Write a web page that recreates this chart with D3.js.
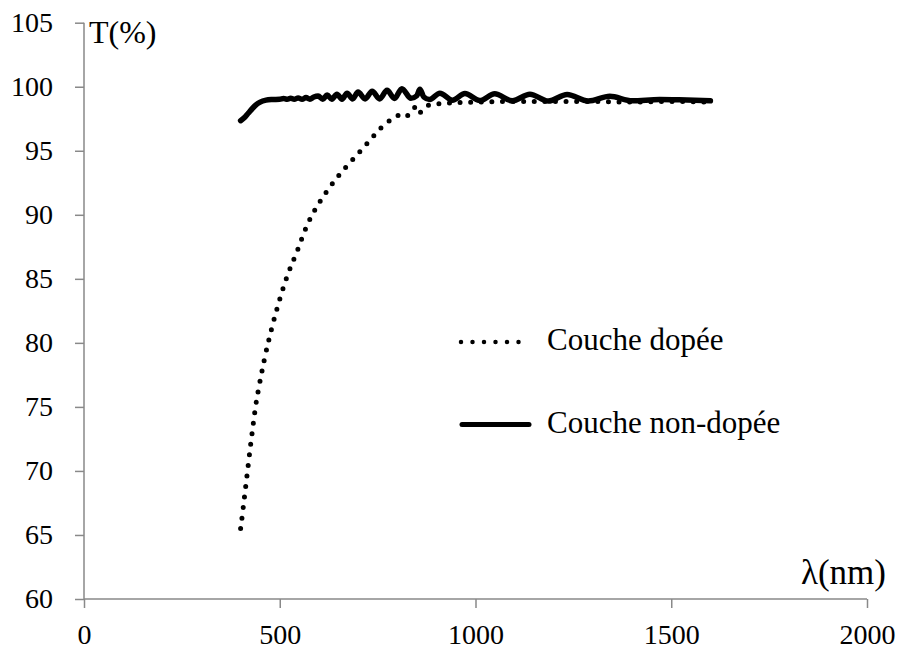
<!DOCTYPE html>
<html>
<head>
<meta charset="utf-8">
<script src="https://cdn.jsdelivr.net/npm/d3@7"></script>
<style>
  html, body { margin: 0; padding: 0; background: #fff; }
  svg { display: block; }
  text { font-family: "Liberation Serif", "Times New Roman", serif; fill: #000; }
</style>
</head>
<body>
<svg id="chart" width="900" height="652" font-family="Liberation Serif, Times New Roman, serif"></svg>
<script>
// ---- Data ----
const xTicks = [0, 500, 1000, 1500, 2000];
const yTicks = [60, 65, 70, 75, 80, 85, 90, 95, 100, 105];

// Couche dopée (dotted)
const lambdaDoped = [400, 405, 410, 415, 420, 425, 430, 435, 440, 445, 460, 480, 500, 520, 545, 570, 598, 629, 664, 698, 730, 759, 783, 810, 820, 835, 850, 858, 875, 900, 950, 1000, 1100, 1200, 1300, 1400, 1500, 1600];
const tDoped      = [65.5, 66.7, 68.0, 69.3, 70.6, 71.9, 73.1, 74.3, 75.4, 76.25, 78.6, 81.2, 83.4, 85.3, 87.2, 89.2, 90.8, 92.2, 93.55, 94.7, 95.8, 96.8, 97.4, 97.8, 97.65, 98.0, 98.5, 98.0, 98.5, 98.65, 98.75, 98.8, 98.85, 98.85, 98.85, 98.8, 98.85, 98.8];

// Couche non-dopée (solid)
const lambdaUndoped = [400, 410, 420, 430, 440, 450, 465, 480, 500, 510, 519, 528, 537, 547, 557, 567, 577, 587, 598, 610, 621, 633, 646, 659, 672, 686, 700, 718, 736, 755, 774, 793, 812, 835, 850, 858, 868, 883, 909, 941, 973, 1011, 1049, 1094, 1139, 1186, 1234, 1288, 1343, 1400, 1470, 1520, 1560, 1600];
const tUndoped      = [97.35, 97.6, 97.95, 98.3, 98.6, 98.8, 98.95, 99.0, 99.02, 99.08, 99.02, 99.1, 99.02, 99.12, 99.02, 99.15, 99.03, 99.2, 99.28, 99.03, 99.35, 99.03, 99.42, 99.03, 99.5, 99.05, 99.58, 99.05, 99.65, 99.05, 99.72, 99.08, 99.85, 99.1, 99.3, 99.8, 99.2, 99.0, 99.5, 98.95, 99.48, 98.92, 99.45, 98.9, 99.42, 98.88, 99.4, 98.88, 99.25, 98.9, 99.0, 98.98, 98.95, 98.9];

const seriesNames = ["Couche dopée", "Couche non-dopée"];
const xTitle = "λ(nm)";
const yTitle = "T(%)";

// ---- Layout ----
const serif = '"Liberation Serif", "Times New Roman", serif';
const svg = d3.select("#chart");
const x = d3.scaleLinear().domain([0, 2000]).range([84, 867]);
const y = d3.scaleLinear().domain([60, 105]).range([599, 22.7]);
const axisColor = "#898989";

// Y axis
const yAxis = svg.append("g")
  .attr("transform", `translate(${x(0)},0)`)
  .call(d3.axisLeft(y).tickValues(yTicks).tickSize(9).tickPadding(22).tickFormat(d3.format("d")));
// X axis
const xAxis = svg.append("g")
  .attr("transform", `translate(0,${y(60)})`)
  .call(d3.axisBottom(x).tickValues(xTicks).tickSize(9).tickPadding(16).tickFormat(d3.format("d")));

[yAxis, xAxis].forEach(g => {
  g.attr("font-family", serif).attr("font-size", 28);
  g.select(".domain").attr("stroke", axisColor).attr("stroke-width", 1.5);
  g.selectAll(".tick line").attr("stroke", axisColor).attr("stroke-width", 1.5);
  g.selectAll(".tick text")
    .attr("fill", "#000")
    .style("font-family", serif)
    .style("font-size", "28px");
});
yAxis.select(".domain").attr("d", `M0,${y(105)}V${y(60)}`);
xAxis.select(".domain").attr("d", `M${x(0)},0H${x(2000)}`);

// Axis titles
svg.append("text").attr("x", 89).attr("y", 43).style("font-size", "32px").text(yTitle);
svg.append("text").attr("x", 886).attr("y", 584).attr("text-anchor", "end").style("font-size", "35px").text(xTitle);

// Lines
const dopedData = lambdaDoped.map((l, i) => [l, tDoped[i]]);
const undopedData = lambdaUndoped.map((l, i) => [l, tUndoped[i]]);
const line = d3.line().x(d => x(d[0])).y(d => y(d[1])).curve(d3.curveMonotoneX);

svg.append("path").datum(undopedData)
  .attr("d", line).attr("fill", "none").attr("stroke", "#000")
  .attr("stroke-width", 5.5).attr("stroke-linecap", "round").attr("stroke-linejoin", "round");

svg.append("path").datum(dopedData)
  .attr("d", line).attr("fill", "none").attr("stroke", "#000")
  .attr("stroke-width", 5).attr("stroke-linecap", "round")
  .attr("stroke-dasharray", "0,10.6");

// Legend
const legend = svg.append("g");
legend.append("line").attr("x1", 461).attr("x2", 530).attr("y1", 342).attr("y2", 342)
  .attr("stroke", "#000").attr("stroke-width", 4.5).attr("stroke-linecap", "round").attr("stroke-dasharray", "0,11.5");
legend.append("text").attr("x", 547).attr("y", 350).style("font-size", "31px").text(seriesNames[0]);
legend.append("line").attr("x1", 462).attr("x2", 529).attr("y1", 424.5).attr("y2", 424.5)
  .attr("stroke", "#000").attr("stroke-width", 5).attr("stroke-linecap", "round");
legend.append("text").attr("x", 547).attr("y", 433).style("font-size", "31px").text(seriesNames[1]);
</script>
</body>
</html>
